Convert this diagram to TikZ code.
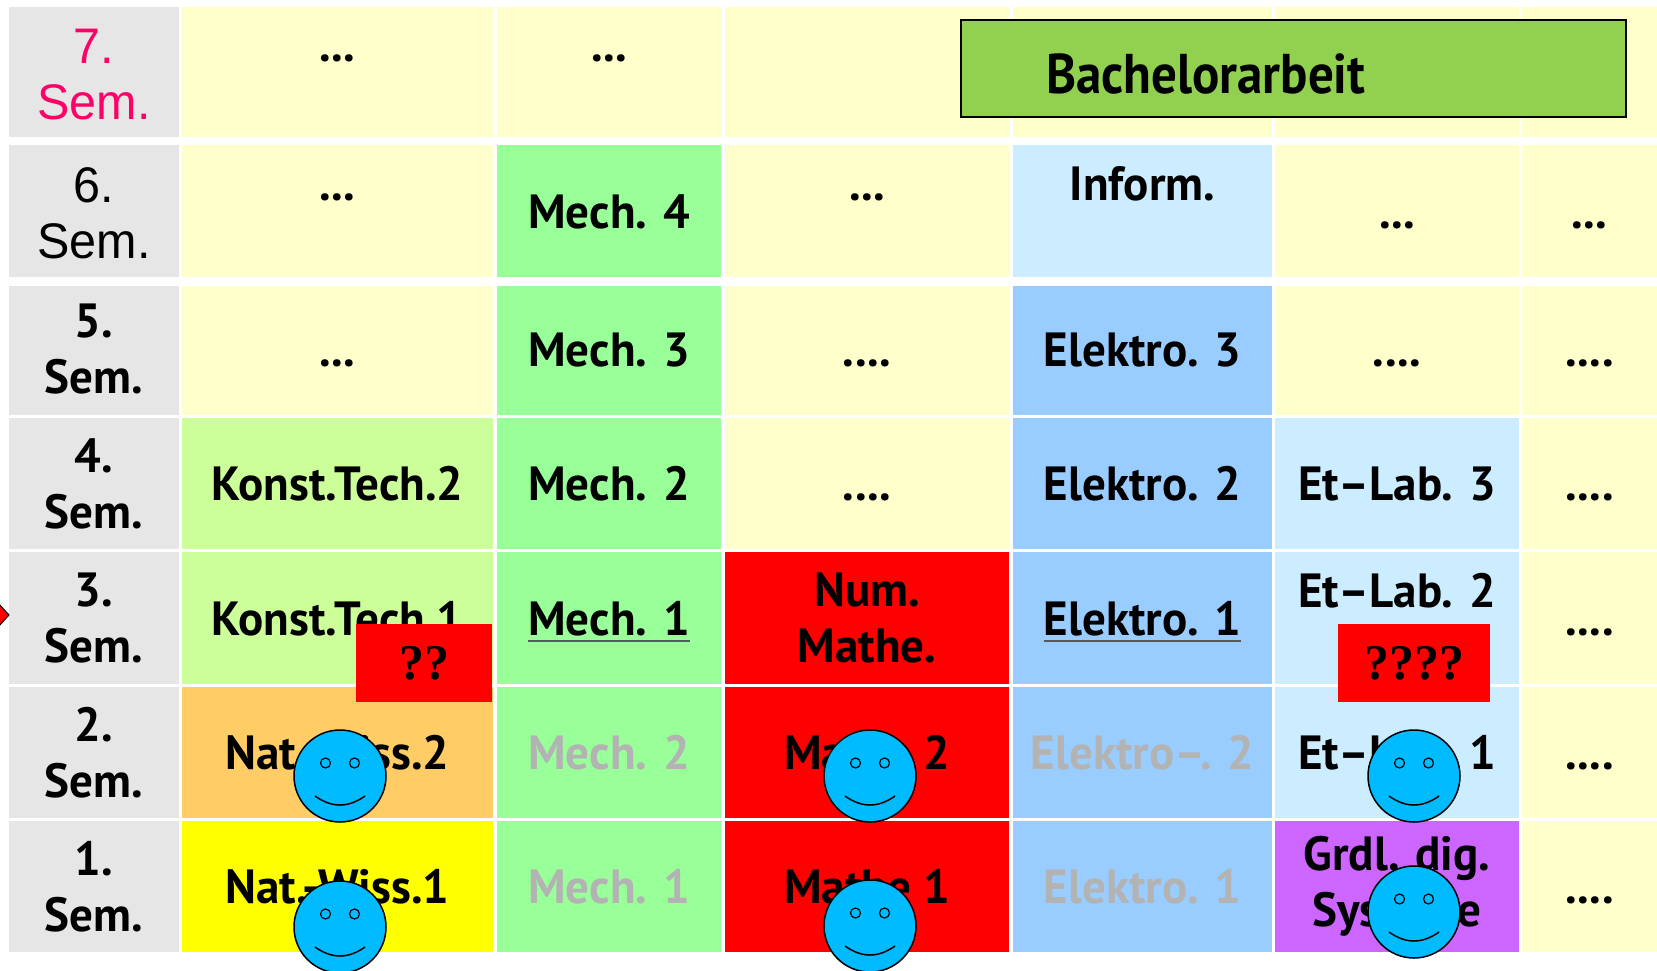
\documentclass[tikz,border=0pt]{standalone}
\usepackage{fontspec}
\newfontfamily\cellfont{PT Sans}[FakeStretch=0.98]
\newfontfamily\bafont{PT Sans}[FakeStretch=0.91]
\newfontfamily\arialfont{Liberation Sans}[FakeStretch=0.97]
\newfontfamily\qfont{Liberation Serif}
\definecolor{labgray}{HTML}{E6E6E6}
\definecolor{paleY}{HTML}{FFFFCC}
\definecolor{paleG}{HTML}{CCFF99}
\definecolor{mechG}{HTML}{99FF99}
\definecolor{elB}{HTML}{99CCFF}
\definecolor{paleB}{HTML}{CCECFF}
\definecolor{natO}{HTML}{FFCC66}
\definecolor{natY}{HTML}{FFFF00}
\definecolor{mathR}{HTML}{FF0000}
\definecolor{digV}{HTML}{CC66FF}
\definecolor{baG}{HTML}{92D050}
\definecolor{semP}{HTML}{FF0066}
\definecolor{oldgray}{HTML}{B3B3B3}
\definecolor{smileB}{HTML}{00BBFF}
\definecolor{ulgray}{HTML}{595959}
\begin{document}
\begin{tikzpicture}[x=1pt,y=-1pt,
  txt/.style={anchor=base, inner sep=0pt, font=\cellfont\bfseries\fontsize{48}{56}\selectfont},
  two/.style={txt, anchor=center, align=center},
  old/.style={txt, text=oldgray},
  sem/.style={anchor=center, inner sep=0pt, align=center, font=\arialfont\fontsize{50}{56}\selectfont},
  qbox/.style={fill=mathR, text=black, inner sep=0pt, font=\qfont\bfseries\fontsize{50}{56}\selectfont},
  smiley/.style={circle, draw=black, line width=1.5pt, fill=smileB, minimum size=92pt, inner sep=0pt},
  uline/.style={ulgray, line width=2pt}]
\useasboundingbox (0,0) rectangle (1657,970);
% cell backgrounds, one row per line
\foreach \ya/\yb/\ca/\cb/\cc/\cd/\ce/\cf in {
    7/137/paleY/paleY/paleY/paleY/paleY/paleY,
    145/277/paleY/mechG/paleY/paleB/paleY/paleY,
    286/415/paleY/mechG/paleY/elB/paleY/paleY,
    418/549/paleG/mechG/paleY/elB/paleB/paleY,
    552/684/paleG/mechG/mathR/elB/paleB/paleY,
    687/818/natO/mechG/mathR/elB/paleB/paleY,
    821/952/natY/mechG/mathR/elB/digV/paleY} {
  \fill[labgray] (9,\ya) rectangle (179,\yb);
  \fill[\ca] (182,\ya) rectangle (493,\yb);
  \fill[\cb] (497,\ya) rectangle (721,\yb);
  \fill[\cc] (725,\ya) rectangle (1009,\yb);
  \fill[\cd] (1013,\ya) rectangle (1272,\yb);
  \fill[\ce] (1275,\ya) rectangle (1519,\yb);
  \fill[\cf] (1522,\ya) rectangle (1657,\yb);
}
% arrow tip at the left edge
\filldraw[fill=red, draw=black, line width=1pt] (-12,592) -- (9,615) -- (-12,638) -- cycle;
% semester labels
\node[sem, text=semP] (s7) at (94,75) {7.\\Sem.};
\node[sem] (s6) at (94,213) {6.\\Sem.};
\node[two] (s5) at (94,349.5) {5.\\Sem.};
\node[two] (s4) at (94,483.5) {4.\\Sem.};
\node[two] (s3) at (94,618) {3.\\Sem.};
\node[two] (s2) at (94,752.5) {2.\\Sem.};
\node[two] (s1) at (94,886.5) {1.\\Sem.};
% 7. Sem.
\node[txt] (r7c1) at (337.5,61) {...};
\node[txt] (r7c2) at (609,61) {...};
\node[draw=black, line width=2pt, fill=baG, minimum width=665pt, minimum height=97pt] (ba) at (1293,68.5) {};
\node[txt, font=\bafont\bfseries\fontsize{56}{64}\selectfont] (bat) at (1046,93) [anchor=base west] {Bachelorarbeit};
% 6. Sem.
\node[txt] (r6c1) at (337.5,200.5) {...};
\node[txt] (r6c2) at (609,228.5) {Mech. 4};
\node[txt] (r6c3) at (867,200.5) {...};
\node[txt] (r6c4) at (1142.5,200.5) {Inform.};
\node[txt] (r6c5) at (1397,228.5) {...};
\node[txt] (r6c6) at (1589.5,228.5) {...};
% 5. Sem.
\node[txt] (r5c1) at (337.5,366.5) {...};
\node[txt] (r5c2) at (609,366.5) {Mech. 3};
\node[txt] (r5c3) at (867,366.5) {....};
\node[txt] (r5c4) at (1142.5,366.5) {Elektro. 3};
\node[txt] (r5c5) at (1397,366.5) {....};
\node[txt] (r5c6) at (1589.5,366.5) {....};
% 4. Sem.
\node[txt] (r4c1) at (337.5,500.5) {Konst.Tech.2};
\node[txt] (r4c2) at (609,500.5) {Mech. 2};
\node[txt] (r4c3) at (867,500.5) {....};
\node[txt] (r4c4) at (1142.5,500.5) {Elektro. 2};
\node[txt] (r4c5) at (1397,500.5) {Et–Lab. 3};
\node[txt] (r4c6) at (1589.5,500.5) {....};
% 3. Sem.
\node[txt] (r3c1) at (337.5,635) {Konst.Tech.1};
\node[txt] (r3c2) at (609,635) {Mech. 1};
\node[two] (r3c3) at (867,618) {Num.\\Mathe.};
\node[txt] (r3c4) at (1142.5,635) {Elektro. 1};
\node[txt] (r3c5) at (1397,607) {Et–Lab. 2};
\node[txt] (r3c6) at (1589.5,635) {....};
\draw[uline] ([yshift=-5.5pt]r3c2.base west) -- ([yshift=-5.5pt]r3c2.base east);
\draw[uline] ([yshift=-5.5pt]r3c4.base west) -- ([yshift=-5.5pt]r3c4.base east);
% 2. Sem.
\node[txt] (r2c1) at (337.5,769.5) {Nat.-Wiss.2};
\node[old] (r2c2) at (609,769.5) {Mech. 2};
\node[txt] (r2c3) at (867,769.5) {Mathe 2};
\node[old] (r2c4) at (1142.5,769.5) {Elektro–. 2};
\node[txt] (r2c5) at (1397,769.5) {Et–Lab. 1};
\node[txt] (r2c6) at (1589.5,769.5) {....};
% 1. Sem.
\node[txt] (r1c1) at (337.5,903.5) {Nat.-Wiss.1};
\node[old] (r1c2) at (609,903.5) {Mech. 1};
\node[txt] (r1c3) at (867,903.5) {Mathe 1};
\node[old] (r1c4) at (1142.5,903.5) {Elektro. 1};
\node[two] (r1c5) at (1397,886.5) {Grdl. dig.\\Systeme};
\node[txt] (r1c6) at (1589.5,903.5) {....};
% open questions
\node[qbox, minimum width=136pt, minimum height=78pt] (q1) at (424,663) {??};
\node[qbox, minimum width=152pt, minimum height=78pt] (q2) at (1414,663) {????};
% smileys
\foreach \n/\sx/\sy in {a/340/776, b/870/776, c/1414/776, d/340/927, e/870/926, f/1414/912} {
  \node[smiley] (sm\n) at (\sx,\sy) {};
  \draw[fill=smileB, line width=1.2pt] ([shift={(-14.5,-13)}]sm\n.center) circle[radius=5pt];
  \draw[fill=smileB, line width=1.2pt] ([shift={(14.5,-13)}]sm\n.center) circle[radius=5pt];
  \draw[line width=1.5pt] ([shift={(-25,20)}]sm\n.center) .. controls ([shift={(-8,32)}]sm\n.center) and ([shift={(8,32)}]sm\n.center) .. ([shift={(25,20)}]sm\n.center);
}
\end{tikzpicture}
\end{document}
